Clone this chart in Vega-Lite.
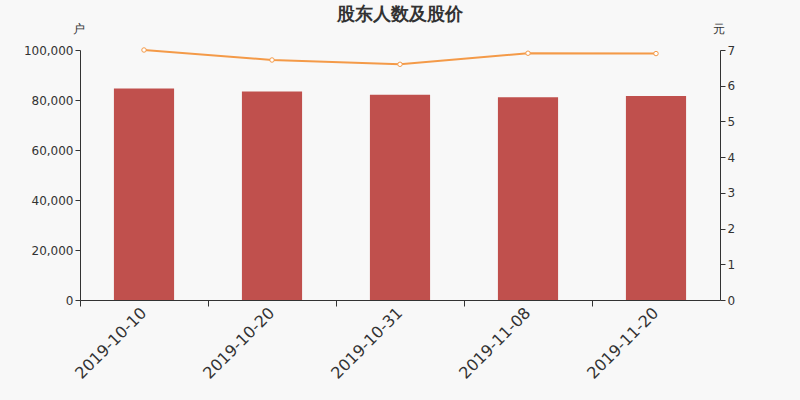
{
  "$schema": "https://vega.github.io/schema/vega-lite/v6.json",
  "width": 640,
  "height": 250,
  "autosize": {"type": "none"},
  "padding": {"left": 80, "top": 50, "right": 80, "bottom": 100},
  "background": "#f8f8f8",
  "config": {
    "view": {"stroke": null},
    "font": "DejaVu Sans",
    "axis": {"domainColor": "#333333", "tickColor": "#333333", "labelColor": "#333333", "grid": false, "labelFontSize": 12, "titleFontWeight": "normal", "titleFontSize": 12, "titleColor": "#333333"}
  },
  "title": {"text": "股东人数及股价", "fontSize": 18, "fontWeight": "bold", "color": "#333333", "offset": -2, "anchor": "middle"},
  "data": {
    "values": [
      {"date": "2019-10-10", "holders": 84600, "price": 7.0},
      {"date": "2019-10-20", "holders": 83400, "price": 6.72},
      {"date": "2019-10-31", "holders": 82100, "price": 6.6},
      {"date": "2019-11-08", "holders": 81100, "price": 6.91},
      {"date": "2019-11-20", "holders": 81600, "price": 6.9}
    ]
  },
  "encoding": {
    "x": {
      "field": "date", "type": "nominal", "title": null,
      "scale": {"paddingInner": 0, "paddingOuter": 0},
      "axis": {"labelAngle": -45, "labelAlign": "right", "labelBaseline": "middle", "labelFontSize": 16, "bandPosition": 0, "tickSize": 6, "labelPadding": 4}
    }
  },
  "layer": [
    {
      "mark": {"type": "bar", "color": "#c0504d", "width": {"band": 0.47}},
      "encoding": {
        "y": {
          "field": "holders", "type": "quantitative", "title": "户",
          "scale": {"domain": [0, 100000]},
          "axis": {"values": [0, 20000, 40000, 60000, 80000, 100000], "format": ",.0f", "titleAngle": 0, "titleX": -2, "titleY": -22, "titleAlign": "center", "titleBaseline": "middle", "tickSize": 5}
        }
      }
    },
    {
      "mark": {"type": "line", "color": "#f49a48", "strokeWidth": 2, "point": {"filled": true, "fill": "#ffffff", "stroke": "#f49a48", "strokeWidth": 1, "size": 20}},
      "encoding": {
        "y": {
          "field": "price", "type": "quantitative", "title": "元",
          "scale": {"domain": [0, 7]},
          "axis": {"orient": "right", "values": [0, 1, 2, 3, 4, 5, 6, 7], "titleAngle": 0, "titleX": -2, "titleY": -22, "titleAlign": "center", "titleBaseline": "middle", "tickSize": 5}
        }
      }
    }
  ],
  "resolve": {"scale": {"y": "independent"}}
}
